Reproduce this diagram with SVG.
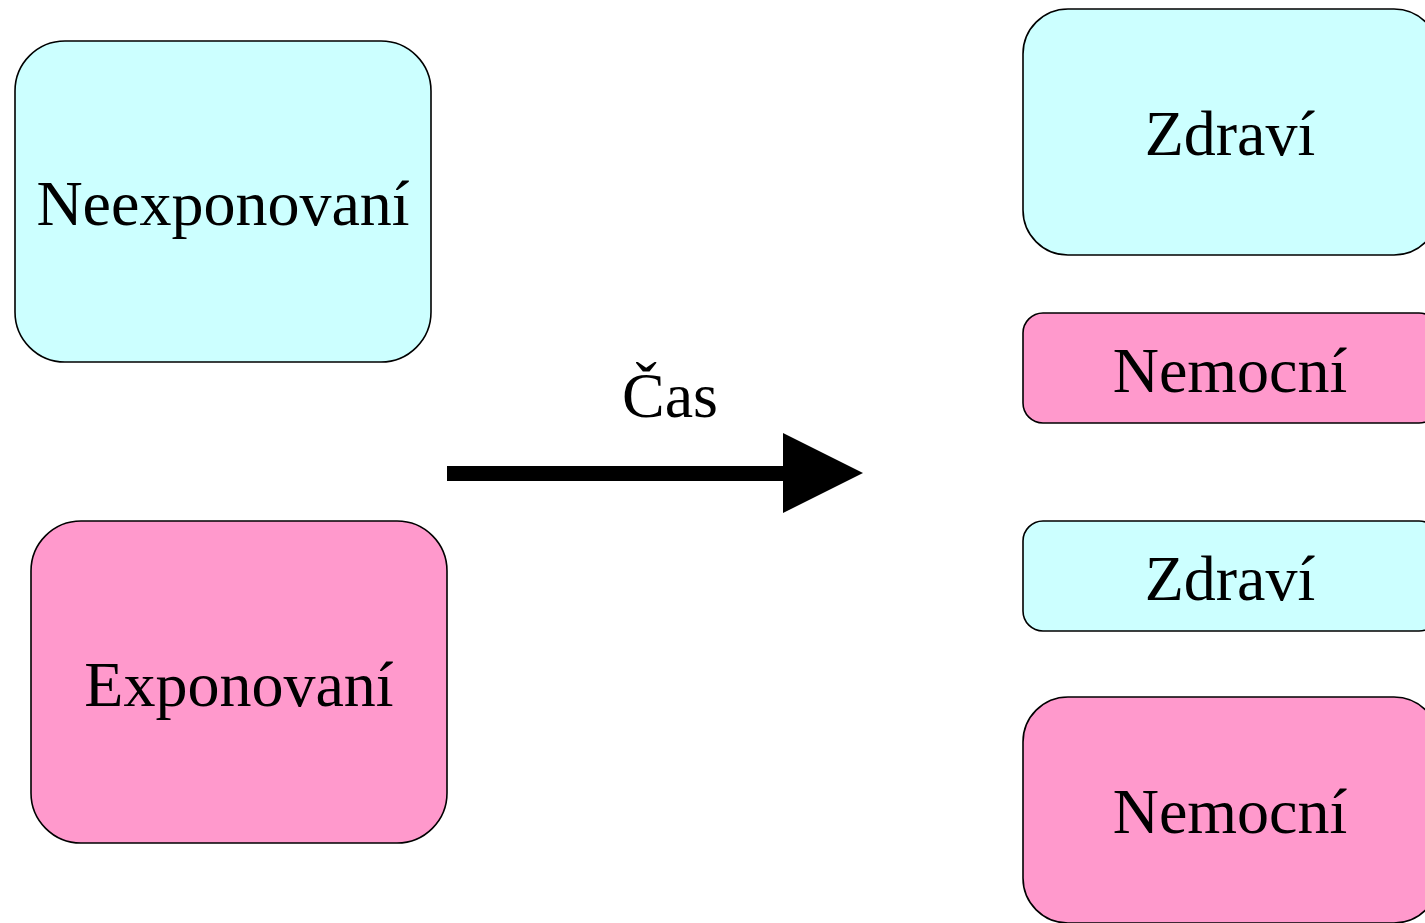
<svg xmlns="http://www.w3.org/2000/svg" width="1425" height="923" viewBox="0 0 1425 923">
<style>
.box{stroke:#000;stroke-width:1.6}
.c{fill:#CCFFFF}
.p{fill:#FF99CC}
text{font-family:"Liberation Serif","Times New Roman",serif;font-size:64px;fill:#000;text-anchor:middle}
</style>
<rect width="1425" height="923" fill="#fff"/>
<g id="neexponovani"><rect class="box c" x="15" y="41" width="416" height="321" rx="50" ry="50"/><text x="223" y="225">Neexponovaní</text></g>
<g id="exponovani"><rect class="box p" x="31" y="521" width="416" height="322" rx="50" ry="50"/><text x="239" y="706">Exponovaní</text></g>
<g id="zdravi1"><rect class="box c" x="1023" y="9" width="416" height="246" rx="45" ry="45"/><text x="1230" y="155">Zdraví</text></g>
<g id="nemocni1"><rect class="box p" x="1023" y="313" width="416" height="110" rx="20" ry="20"/><text x="1230" y="392">Nemocní</text></g>
<g id="zdravi2"><rect class="box c" x="1023" y="521" width="416" height="110" rx="20" ry="20"/><text x="1230" y="600">Zdraví</text></g>
<g id="nemocni2"><rect class="box p" x="1023" y="697" width="416" height="226" rx="45" ry="45"/><text x="1230" y="833">Nemocní</text></g>
<g id="connectors">
<rect x="447" y="466" width="337" height="15" fill="#000"/>
<polygon points="783,433 863,473 783,513" fill="#000"/>
<text x="670" y="417">Čas</text>
</g>
</svg>
